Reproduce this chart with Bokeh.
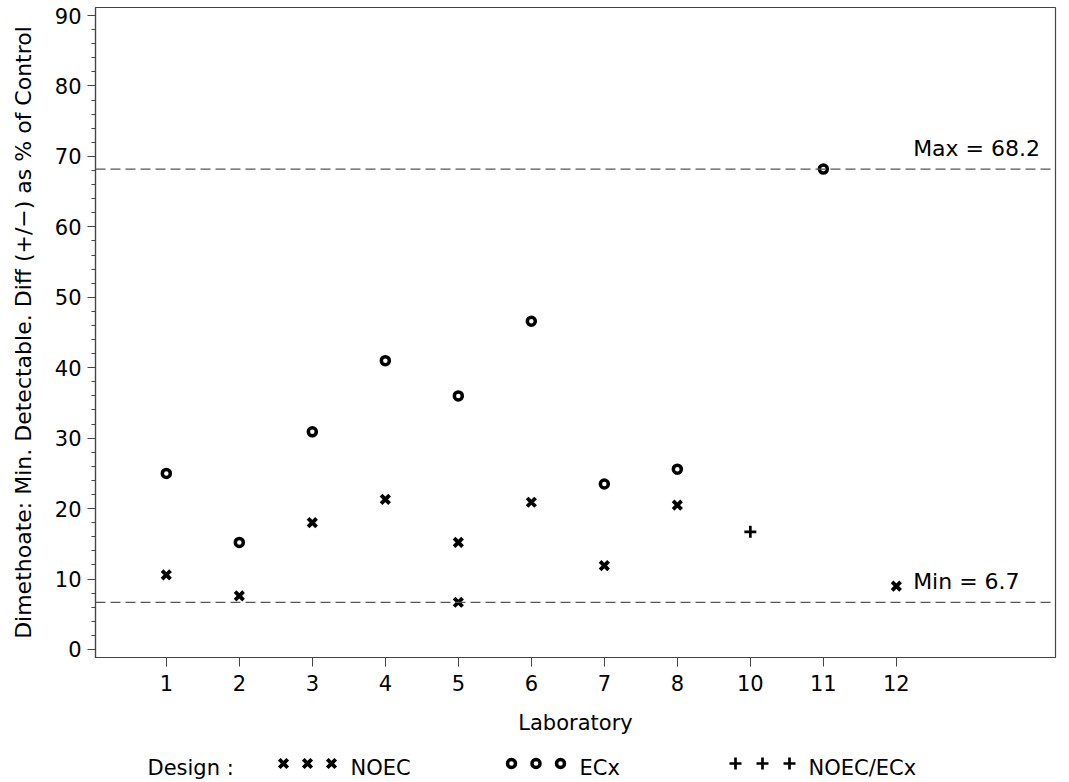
from bokeh.plotting import figure
from bokeh.models import Range1d, Span, Label, FixedTicker, SingleIntervalTicker
from bokeh.layouts import column
from bokeh.embed import file_html
from bokeh.resources import INLINE
from bokeh.core.properties import value

# ---- data ----
labs = ["1", "2", "3", "4", "5", "6", "7", "8", "10", "11", "12"]

noec_lab = ["1", "2", "3", "4", "5", "5", "6", "7", "8", "12"]
noec_val = [10.6, 7.6, 18.0, 21.3, 15.2, 6.7, 20.9, 11.9, 20.5, 9.0]

ecx_lab = ["1", "2", "3", "4", "5", "6", "7", "8", "11"]
ecx_val = [25.0, 15.2, 30.9, 41.0, 36.0, 46.6, 23.5, 25.6, 68.2]

both_lab = ["10"]
both_val = [16.7]

series_names = ["NOEC", "ECx", "NOEC/ECx"]

FONT = "DejaVu Sans"
pos = {lab: i + 1 for i, lab in enumerate(labs)}

all_vals = noec_val + ecx_val + both_val
vmax = max(all_vals)
vmin = min(all_vals)

FL, FR = 95, 14  # frame borders (left, right)

p = figure(width=1069, height=745,
           x_range=Range1d(0.03, 13.18), y_range=Range1d(-1.14, 91.14),
           output_backend="svg", toolbar_location=None,
           min_border_left=FL, min_border_right=FR,
           min_border_top=7, min_border_bottom=88)
p.grid.visible = False
p.outline_line_color = "#444444"
p.outline_line_width = 1.2
p.background_fill_color = "white"
p.border_fill_color = "white"

# reference lines
for v in (vmax, vmin):
    p.add_layout(Span(location=v, dimension="width", line_color="#555555",
                      line_width=1.3, line_dash="10 5"))

p.add_layout(Label(x=pos["12"] + 0.23, y=vmax, y_offset=21, text=f"Max = {vmax:.1f}",
                   text_font=FONT, text_font_size="22px", text_color="black",
                   text_baseline="alphabetic"))
p.add_layout(Label(x=pos["12"] + 0.23, y=vmin, y_offset=21, text=f"Min = {vmin:.1f}",
                   text_font=FONT, text_font_size="22px", text_color="black",
                   text_baseline="alphabetic"))

MK = [("x", 12, 3.8), ("circle", 8, 3.5), ("cross", 12, 2.7)]

# markers
p.scatter([pos[l] for l in noec_lab], noec_val, marker=MK[0][0], size=MK[0][1],
          line_width=MK[0][2], line_color="black")
p.scatter([pos[l] for l in ecx_lab], ecx_val, marker=MK[1][0], size=MK[1][1],
          line_width=MK[1][2], line_color="black", fill_color=None)
p.scatter([pos[l] for l in both_lab], both_val, marker=MK[2][0], size=MK[2][1],
          line_width=MK[2][2], line_color="black")

# axes
xa = p.xaxis[0]
xa.ticker = FixedTicker(ticks=[pos[l] for l in labs], minor_ticks=[])
xa.major_label_overrides = {pos[l]: l for l in labs}
xa.axis_label = "Laboratory"
ya = p.yaxis[0]
ya.ticker = SingleIntervalTicker(interval=10, num_minor_ticks=5)
ya.axis_label = "Dimethoate: Min. Detectable. Diff (+/\u2212) as % of Control"

for ax in (xa, ya):
    ax.axis_line_color = "#444444"
    ax.axis_line_width = 1.2
    ax.major_tick_line_color = "#444444"
    ax.minor_tick_line_color = "#444444"
    ax.major_tick_in = 0
    ax.minor_tick_in = 0
    ax.minor_tick_out = 4
    ax.major_label_text_font = FONT
    ax.major_label_text_font_size = "21px"
    ax.major_label_text_color = "black"
    ax.axis_label_text_font = FONT
    ax.axis_label_text_font_style = "normal"
    ax.axis_label_text_color = "black"

xa.axis_label_text_font_size = "21px"
ya.axis_label_text_font_size = "22px"
xa.major_tick_out = 9
xa.major_label_standoff = 8
xa.axis_label_standoff = 17
ya.major_tick_out = 8
ya.major_label_standoff = 6
ya.axis_label_standoff = 16

# legend strip (x coordinates in page pixels)
lg = figure(width=1069, height=37, x_range=Range1d(FL, 1069 - FR), y_range=Range1d(0, 37),
            output_backend="svg", toolbar_location=None,
            min_border_left=FL, min_border_right=FR, min_border_top=0, min_border_bottom=0,
            x_axis_location=None, y_axis_location=None)
lg.grid.visible = False
lg.outline_line_color = None
lg.text(x=[147], y=[15], text=["Design :"], text_font=value(FONT),
        text_font_size="21px", text_baseline="middle", text_color="black")

starts = [283, 511, 735]
gaps = [24, 24.5, 27]
for name, s, g, (mk, sz, lw) in zip(series_names, starts, gaps, MK):
    xs = [s + g * k for k in range(3)]
    lg.scatter(xs, [19] * 3, marker=mk, size=sz, line_width=lw,
               line_color="black", fill_color=None)
    lg.text(x=[xs[-1] + 19], y=[15], text=[name], text_font=value(FONT),
            text_font_size="21px", text_baseline="middle", text_color="black")

layout = column(p, lg, spacing=0)
open("out.html", "w").write(file_html(layout, INLINE))
